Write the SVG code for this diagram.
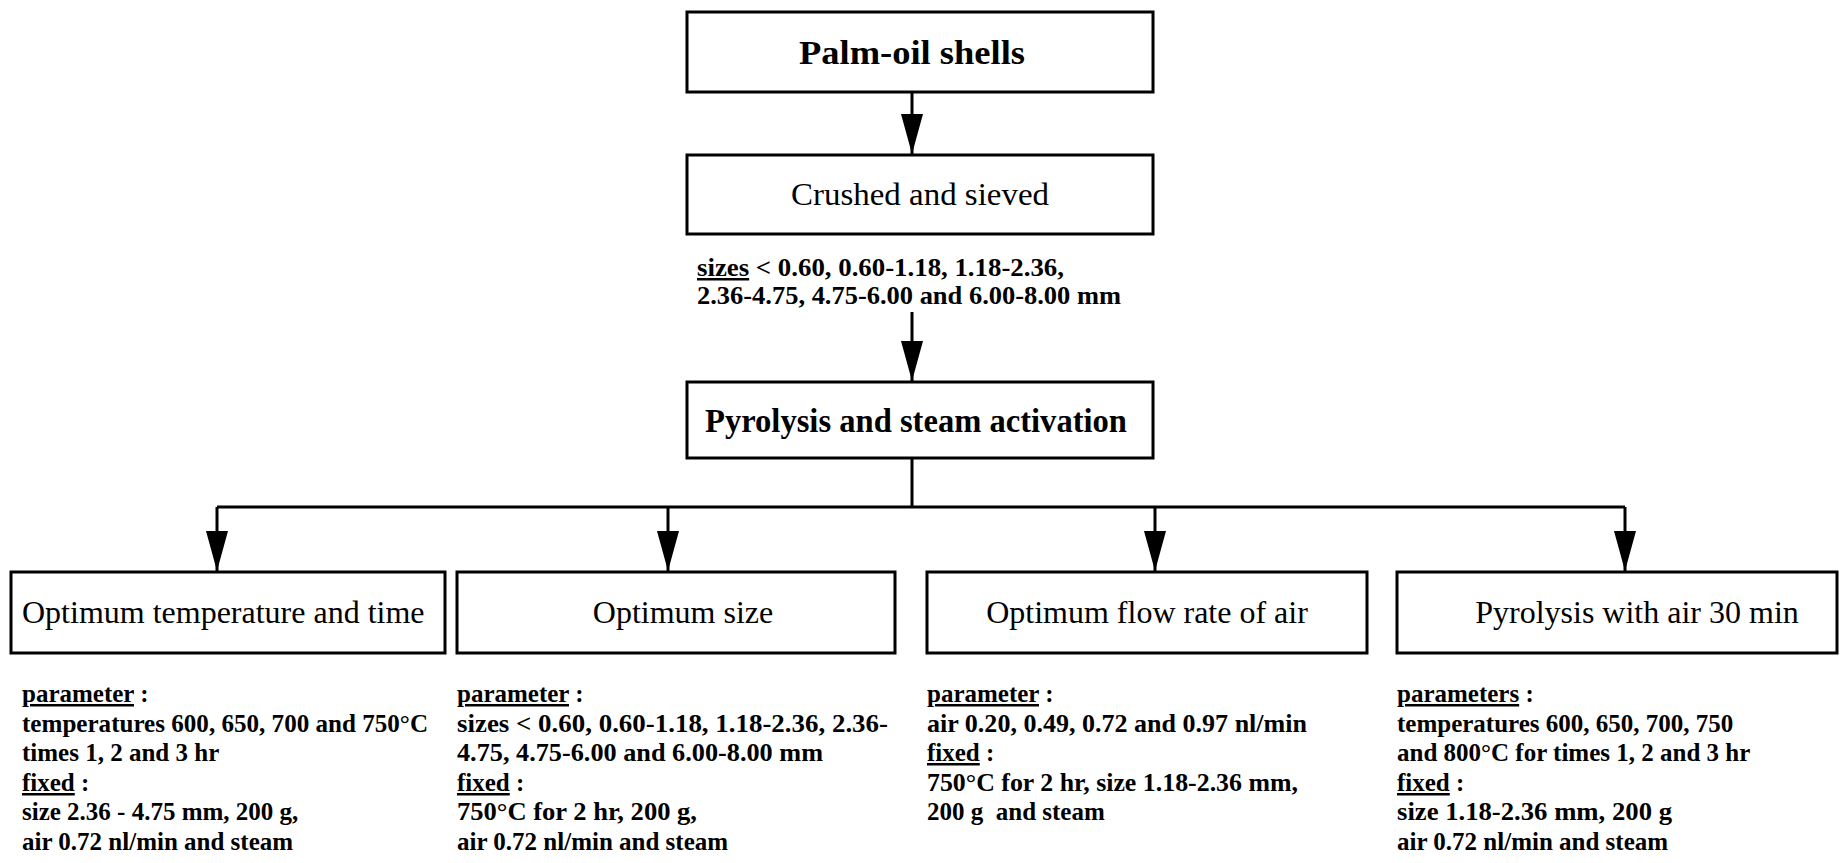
<svg xmlns="http://www.w3.org/2000/svg" width="1842" height="863" viewBox="0 0 1842 863">
<style>
.box{fill:#fff;stroke:#000;stroke-width:3}
.t{font-family:"Liberation Serif","Times New Roman",serif;fill:#000}
.big{font-size:34px;font-weight:bold}
.lbl{font-size:32px}
.d{font-size:25px;font-weight:bold}
.u{text-decoration:underline}
.c{fill:none;stroke:#000;stroke-width:3}
</style>
<defs>
<marker id="ah" markerUnits="userSpaceOnUse" markerWidth="42" markerHeight="24" refX="40" refY="12" orient="auto">
<path d="M0,1 L40,12 L0,23 Z" fill="#000"/>
</marker>
</defs>
<rect width="1842" height="863" fill="#fff"/>
<g id="connectors">
<line class="c" x1="912" y1="92" x2="912" y2="154" marker-end="url(#ah)"/>
<line class="c" x1="912" y1="312" x2="912" y2="381" marker-end="url(#ah)"/>
<polyline class="c" points="912,458 912,507"/>
<polyline class="c" points="217,507 1625,507"/>
<line class="c" x1="217" y1="507" x2="217" y2="571" marker-end="url(#ah)"/>
<line class="c" x1="668" y1="507" x2="668" y2="571" marker-end="url(#ah)"/>
<line class="c" x1="1155" y1="507" x2="1155" y2="571" marker-end="url(#ah)"/>
<line class="c" x1="1625" y1="507" x2="1625" y2="571" marker-end="url(#ah)"/>
</g>
<g id="palm">
<rect class="box" x="687" y="12" width="466" height="80"/>
<text class="t big" x="912" y="64" text-anchor="middle" textLength="226" lengthAdjust="spacingAndGlyphs">Palm-oil shells</text>
</g>
<g id="crushed">
<rect class="box" x="687" y="155" width="466" height="79"/>
<text class="t lbl" x="920" y="205" text-anchor="middle" textLength="258" lengthAdjust="spacingAndGlyphs">Crushed and sieved</text>
</g>
<g id="sizes">
<text class="t d" x="697" y="276" textLength="367" lengthAdjust="spacingAndGlyphs"><tspan class="u">sizes</tspan> &lt; 0.60, 0.60-1.18, 1.18-2.36,</text>
<text class="t d" x="697" y="304" textLength="424" lengthAdjust="spacingAndGlyphs">2.36-4.75, 4.75-6.00 and 6.00-8.00 mm</text>
</g>
<g id="pyrolysis">
<rect class="box" x="687" y="382" width="466" height="76"/>
<text class="t big" x="916" y="432" text-anchor="middle" textLength="422" lengthAdjust="spacingAndGlyphs">Pyrolysis and steam activation</text>
</g>
<g id="opt-temp">
<rect class="box" x="11" y="572" width="434" height="81"/>
<text class="t lbl" x="22" y="623">Optimum temperature and time</text>
<text class="t d" x="22" y="702"><tspan class="u">parameter</tspan> :</text>
<text class="t d" x="22" y="732" textLength="406" lengthAdjust="spacingAndGlyphs">temperatures 600, 650, 700 and 750°C</text>
<text class="t d" x="22" y="761">times 1, 2 and 3 hr</text>
<text class="t d" x="22" y="791"><tspan class="u">fixed</tspan> :</text>
<text class="t d" x="22" y="820">size 2.36 - 4.75 mm, 200 g,</text>
<text class="t d" x="22" y="850">air 0.72 nl/min and steam</text>
</g>
<g id="opt-size">
<rect class="box" x="457" y="572" width="438" height="81"/>
<text class="t lbl" x="683" y="623" text-anchor="middle">Optimum size</text>
<text class="t d" x="457" y="702"><tspan class="u">parameter</tspan> :</text>
<text class="t d" x="457" y="732" textLength="431" lengthAdjust="spacingAndGlyphs">sizes &lt; 0.60, 0.60-1.18, 1.18-2.36, 2.36-</text>
<text class="t d" x="457" y="761" textLength="366" lengthAdjust="spacingAndGlyphs">4.75, 4.75-6.00 and 6.00-8.00 mm</text>
<text class="t d" x="457" y="791"><tspan class="u">fixed</tspan> :</text>
<text class="t d" x="457" y="820" textLength="240" lengthAdjust="spacingAndGlyphs">750°C for 2 hr, 200 g,</text>
<text class="t d" x="457" y="850">air 0.72 nl/min and steam</text>
</g>
<g id="opt-air">
<rect class="box" x="927" y="572" width="440" height="81"/>
<text class="t lbl" x="1147" y="623" text-anchor="middle">Optimum flow rate of air</text>
<text class="t d" x="927" y="702"><tspan class="u">parameter</tspan> :</text>
<text class="t d" x="927" y="732" textLength="380" lengthAdjust="spacingAndGlyphs">air 0.20, 0.49, 0.72 and 0.97 nl/min</text>
<text class="t d" x="927" y="761"><tspan class="u">fixed</tspan> :</text>
<text class="t d" x="927" y="791" textLength="371" lengthAdjust="spacingAndGlyphs">750°C for 2 hr, size 1.18-2.36 mm,</text>
<text class="t d" x="927" y="820" xml:space="preserve">200 g  and steam</text>
</g>
<g id="pyro-air">
<rect class="box" x="1397" y="572" width="440" height="81"/>
<text class="t lbl" x="1637" y="623" text-anchor="middle">Pyrolysis with air 30 min</text>
<text class="t d" x="1397" y="702"><tspan class="u">parameters</tspan> :</text>
<text class="t d" x="1397" y="732">temperatures 600, 650, 700, 750</text>
<text class="t d" x="1397" y="761">and 800°C for times 1, 2 and 3 hr</text>
<text class="t d" x="1397" y="791"><tspan class="u">fixed</tspan> :</text>
<text class="t d" x="1397" y="820" textLength="275" lengthAdjust="spacingAndGlyphs">size 1.18-2.36 mm, 200 g</text>
<text class="t d" x="1397" y="850">air 0.72 nl/min and steam</text>
</g>
</svg>
